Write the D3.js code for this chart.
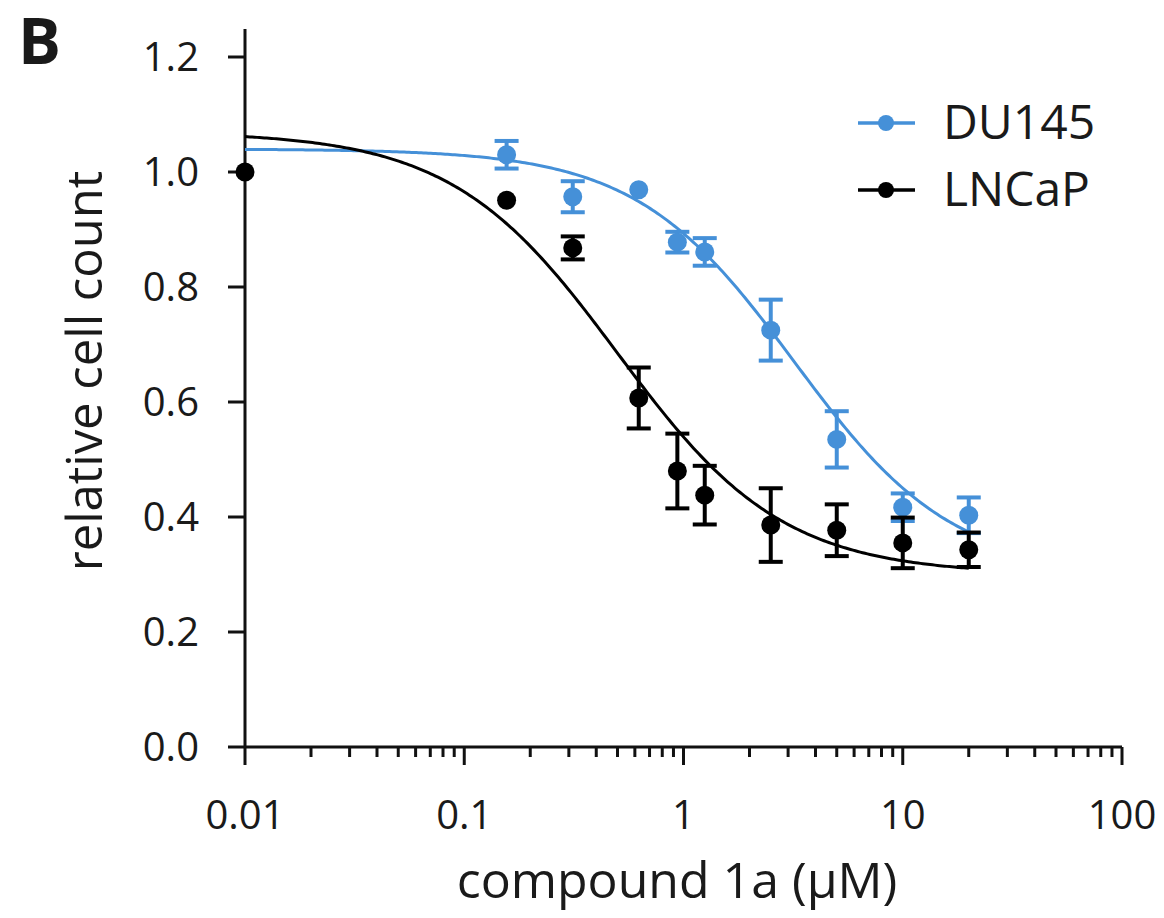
<!DOCTYPE html>
<html>
<head>
<meta charset="utf-8">
<script src="https://cdn.jsdelivr.net/npm/d3@7"></script>
<style>
  html, body { margin: 0; padding: 0; background: #fff; }
  svg { display: block; }
  text { font-family: "Open Sans", "Noto Sans", "DejaVu Sans", sans-serif; fill: #1a1a1a; }
</style>
</head>
<body>
<svg id="chart" width="1164" height="918"></svg>
<script>
// Concentrations of compound 1a (µM); the untreated control is plotted at 0.01
const concDU145 = [0.156, 0.3125, 0.625, 0.9375, 1.25, 2.5, 5, 10, 20];
const meanDU145 = [1.030, 0.957, 0.969, 0.878, 0.861, 0.725, 0.535, 0.417, 0.403];
const errDU145  = [0.024, 0.027, 0.000, 0.018, 0.024, 0.053, 0.049, 0.024, 0.031];

const concLNCaP = [0.01, 0.156, 0.3125, 0.625, 0.9375, 1.25, 2.5, 5, 10, 20];
const meanLNCaP = [1.000, 0.951, 0.868, 0.607, 0.480, 0.438, 0.386, 0.377, 0.355, 0.343];
const errLNCaP  = [0.000, 0.000, 0.020, 0.053, 0.065, 0.051, 0.064, 0.045, 0.044, 0.030];

// Four-parameter logistic fits: [top, bottom, IC50 (µM), Hill slope]
const fitDU145 = [1.04, 0.30, 3.2, 1.2];
const fitLNCaP = [1.07, 0.30, 0.50, 1.15];

const seriesNames = ["DU145", "LNCaP"];
const seriesColors = ["#4590d8", "#000000"];

const xTickValues = [0.01, 0.1, 1, 10, 100];
const yTickValues = [0.0, 0.2, 0.4, 0.6, 0.8, 1.0, 1.2];

const svg = d3.select("#chart");

const x = d3.scaleLog().domain([0.01, 100]).range([245, 1122]);
const y = d3.scaleLinear().domain([0, 1.2]).range([747, 57]);

const ink = "#111";

// Y axis
const yAxis = svg.append("g").attr("transform", `translate(${x(0.01)},0)`);
yAxis.append("line")
  .attr("x1", 0).attr("x2", 0)
  .attr("y1", 29).attr("y2", y(0))
  .attr("stroke", ink).attr("stroke-width", 3);
yAxis.selectAll("line.tick").data(yTickValues).join("line")
  .attr("class", "tick")
  .attr("x1", -17).attr("x2", 0)
  .attr("y1", d => y(d)).attr("y2", d => y(d))
  .attr("stroke", ink).attr("stroke-width", 3);
yAxis.selectAll("text").data(yTickValues).join("text")
  .attr("x", -46).attr("y", d => y(d))
  .attr("dy", "0.36em")
  .attr("text-anchor", "end")
  .attr("font-size", 40)
  .text(d => d3.format(".1f")(d));

// X axis (log, with minor ticks inside each decade)
const minorTicks = [];
for (let dec = 0.01; dec < 100; dec *= 10) {
  for (let k = 2; k <= 9; k++) minorTicks.push(dec * k);
}
const xAxis = svg.append("g").attr("transform", `translate(0,${y(0)})`);
xAxis.append("line")
  .attr("x1", x(0.01)).attr("x2", x(100))
  .attr("y1", 0).attr("y2", 0)
  .attr("stroke", ink).attr("stroke-width", 3);
xAxis.selectAll("line.minor").data(minorTicks).join("line")
  .attr("class", "minor")
  .attr("x1", d => x(d)).attr("x2", d => x(d))
  .attr("y1", 0).attr("y2", 10)
  .attr("stroke", ink).attr("stroke-width", 3);
xAxis.selectAll("line.major").data(xTickValues).join("line")
  .attr("class", "major")
  .attr("x1", d => x(d)).attr("x2", d => x(d))
  .attr("y1", 0).attr("y2", 18)
  .attr("stroke", ink).attr("stroke-width", 3);
xAxis.selectAll("text").data(xTickValues).join("text")
  .attr("x", d => x(d)).attr("y", 82)
  .attr("text-anchor", "middle")
  .attr("font-size", 40)
  .text(d => String(d));

// Axis titles
svg.append("text")
  .attr("x", 677).attr("y", 898)
  .attr("text-anchor", "middle")
  .attr("font-size", 50)
  .text("compound 1a (\u00B5M)");

svg.append("text")
  .attr("transform", "translate(102,371) rotate(-90)")
  .attr("text-anchor", "middle")
  .attr("font-size", 49)
  .text("relative cell count");

// Panel letter
svg.append("text")
  .attr("x", 18).attr("y", 64)
  .attr("font-family", "Liberation Sans, Arial, sans-serif")
  .attr("font-weight", "bold")
  .attr("font-size", 64)
  .text("B");

// Fitted curves
function logistic(p) {
  const [top, bottom, ic50, hill] = p;
  return c => bottom + (top - bottom) / (1 + Math.pow(c / ic50, hill));
}
const curveX = d3.range(0, 301).map(i => Math.pow(10, -2 + i * (Math.log10(20) + 2) / 300));
const line = d3.line().x(d => x(d[0])).y(d => y(d[1]));

const series = [
  { name: seriesNames[0], color: seriesColors[0], conc: concDU145, mean: meanDU145, err: errDU145, fit: fitDU145 },
  { name: seriesNames[1], color: seriesColors[1], conc: concLNCaP, mean: meanLNCaP, err: errLNCaP, fit: fitLNCaP }
];

series.forEach(s => {
  const f = logistic(s.fit);
  svg.append("path")
    .datum(curveX.map(c => [c, f(c)]))
    .attr("d", line)
    .attr("fill", "none")
    .attr("stroke", s.color)
    .attr("stroke-width", 3);
});

// Error bars and points (DU145 first, LNCaP on top)
series.forEach(s => {
  const g = svg.append("g");
  const pts = s.conc.map((c, i) => ({ c, m: s.mean[i], e: s.err[i] })).filter(d => d.e > 0);
  g.selectAll("line.v").data(pts).join("line")
    .attr("x1", d => x(d.c)).attr("x2", d => x(d.c))
    .attr("y1", d => y(d.m + d.e)).attr("y2", d => y(d.m - d.e))
    .attr("stroke", s.color).attr("stroke-width", 4);
  ["+", "-"].forEach(sign => {
    g.selectAll("line.cap" + (sign === "+" ? "t" : "b")).data(pts).join("line")
      .attr("x1", d => x(d.c) - 12).attr("x2", d => x(d.c) + 12)
      .attr("y1", d => y(sign === "+" ? d.m + d.e : d.m - d.e))
      .attr("y2", d => y(sign === "+" ? d.m + d.e : d.m - d.e))
      .attr("stroke", s.color).attr("stroke-width", 4);
  });
  g.selectAll("circle").data(s.conc.map((c, i) => ({ c, m: s.mean[i] }))).join("circle")
    .attr("cx", d => x(d.c)).attr("cy", d => y(d.m))
    .attr("r", 9.5)
    .attr("fill", s.color);
});

// Legend
const legend = svg.append("g");
series.forEach((s, i) => {
  const ly = 123 + i * 67;
  legend.append("line")
    .attr("x1", 858).attr("x2", 915).attr("y1", ly).attr("y2", ly)
    .attr("stroke", s.color).attr("stroke-width", 3.5);
  legend.append("circle").attr("cx", 886).attr("cy", ly).attr("r", 8).attr("fill", s.color);
  legend.append("text")
    .attr("x", 943).attr("y", ly).attr("dy", "0.34em")
    .attr("font-size", 48)
    .text(s.name);
});
</script>
</body>
</html>
